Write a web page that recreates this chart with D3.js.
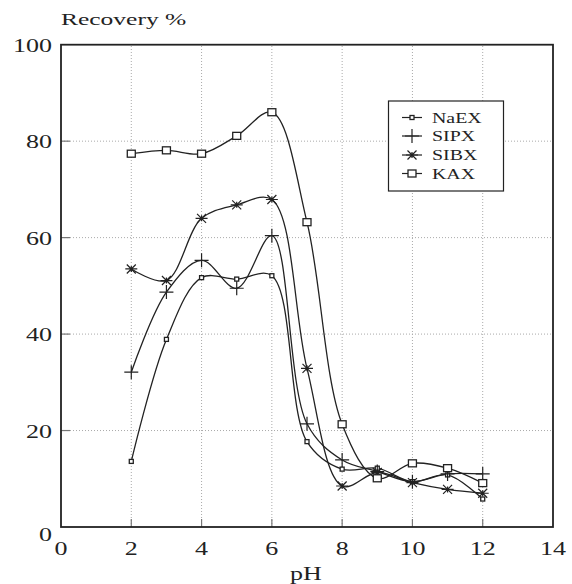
<!DOCTYPE html>
<html lang="en">
<head>
  <meta charset="UTF-8">
  <script src="https://d3js.org/d3.v7.min.js"></script>
  <title>Recovery vs pH</title>
  <style>
    body { margin: 0; background: #fff; }
    text { font-family: "Liberation Serif", "DejaVu Serif", serif; fill: #222; }
  </style>
</head>
<body>
  <svg width="572" height="584"></svg>
  <script>
    const ph = [2, 3, 4, 5, 6, 7, 8, 9, 10, 11, 12];
    const naex = [13.6, 38.9, 51.7, 51.4, 52.1, 17.7, 12.0, 12.2, 9.4, 10.8, 5.8];
    const sipx = [32.1, 48.7, 55.3, 49.5, 60.4, 21.4, 13.9, 11.5, 9.4, 11.0, 11.0];
    const sibx = [53.5, 51.1, 64.0, 66.8, 67.9, 32.9, 8.5, 11.3, 9.2, 7.8, 7.0];
    const kax = [77.4, 78.1, 77.4, 81.1, 86.0, 63.2, 21.3, 10.1, 13.2, 12.2, 9.1];
    const seriesNames = ["NaEX", "SIPX", "SIBX", "KAX"];
    const xTicks = [0, 2, 4, 6, 8, 10, 12, 14];
    const yTicks = [0, 20, 40, 60, 80, 100];

    const svg = d3.select("svg");
    const x = d3.scaleLinear().domain([0, 14]).range([61, 553]);
    const y = d3.scaleLinear().domain([0, 100]).range([527, 44.7]);
    const ink = "#222";

    // text in the picture is drawn wide
    const label = (parent, tx, ty, txt, size, anchor, stretch) =>
      parent.append("text")
        .attr("transform", `translate(${tx},${ty}) scale(${stretch || 1.37},1)`)
        .attr("text-anchor", anchor || "start")
        .attr("font-size", size)
        .text(txt);

    // dotted grid
    svg.append("g").selectAll("line.gx")
      .data(xTicks.slice(1, -1)).enter().append("line")
      .attr("x1", d => x(d)).attr("x2", d => x(d))
      .attr("y1", y(0)).attr("y2", y(100))
      .attr("stroke", "#aaa").attr("stroke-width", 1).attr("stroke-dasharray", "1,2");
    svg.append("g").selectAll("line.gy")
      .data(yTicks.slice(1, -1)).enter().append("line")
      .attr("x1", x(0)).attr("x2", x(14))
      .attr("y1", d => y(d)).attr("y2", d => y(d))
      .attr("stroke", "#aaa").attr("stroke-width", 1).attr("stroke-dasharray", "1,2");

    // inner ticks
    svg.append("g").selectAll("line")
      .data(xTicks.slice(1, -1)).enter().append("line")
      .attr("x1", d => x(d)).attr("x2", d => x(d))
      .attr("y1", y(0)).attr("y2", y(0) - 8)
      .attr("stroke", "#777").attr("stroke-width", 1.2);
    svg.append("g").selectAll("line")
      .data(yTicks.slice(1, -1)).enter().append("line")
      .attr("x1", x(0)).attr("x2", x(0) + 9)
      .attr("y1", d => y(d)).attr("y2", d => y(d))
      .attr("stroke", "#777").attr("stroke-width", 1.2);

    // frame
    svg.append("rect")
      .attr("x", x(0)).attr("y", y(100))
      .attr("width", x(14) - x(0)).attr("height", y(0) - y(100))
      .attr("fill", "none").attr("stroke", ink).attr("stroke-width", 1.8);

    // tick labels
    const xl = svg.append("g");
    xTicks.forEach(d => label(xl, x(d), 555, d, 19, "middle"));
    const yl = svg.append("g");
    yTicks.forEach(d => label(yl, 52, y(d) + (d === 0 ? 14 : 7), d, 19, "end"));

    label(svg, 61, 25, "Recovery %", 17, "start", 1.5);
    label(svg, 306, 580, "pH", 19, "middle");

    // markers
    const markers = {
      NaEX: (g) => g.append("rect").attr("x", -2).attr("y", -2).attr("width", 4).attr("height", 4)
        .attr("fill", "#fff").attr("stroke", ink).attr("stroke-width", 1.3),
      SIPX: (g) => g.append("path").attr("d", "M-7,0H7M0,-7V7")
        .attr("stroke", ink).attr("stroke-width", 1.2).attr("fill", "none"),
      SIBX: (g) => g.append("path").attr("d", "M-6,0H6M-4.5,-4.5L4.5,4.5M-4.5,4.5L4.5,-4.5M0,-3V3")
        .attr("stroke", ink).attr("stroke-width", 1.2).attr("fill", "none"),
      KAX: (g) => g.append("rect").attr("x", -4).attr("y", -3.5).attr("width", 8).attr("height", 7)
        .attr("fill", "#fff").attr("stroke", ink).attr("stroke-width", 1.3)
    };

    const allSeries = [naex, sipx, sibx, kax];
    const line = d3.line().x(d => x(d[0])).y(d => y(d[1])).curve(d3.curveCatmullRom.alpha(0.5));

    allSeries.forEach((vals) => {
      const pts = ph.map((p, j) => [p, vals[j]]);
      svg.append("path")
        .attr("d", line(pts))
        .attr("fill", "none").attr("stroke", ink).attr("stroke-width", 1.3);
    });
    allSeries.forEach((vals, i) => {
      const name = seriesNames[i];
      ph.forEach((p, j) => {
        const g = svg.append("g").attr("transform", `translate(${x(p)},${y(vals[j])})`);
        markers[name](g);
      });
    });

    // legend
    const lg = svg.append("g");
    lg.append("rect").attr("x", 388.5).attr("y", 101).attr("width", 115).attr("height", 90)
      .attr("fill", "#fff").attr("stroke", ink).attr("stroke-width", 1.2);
    const legY = [117.5, 136, 155, 173.5];
    seriesNames.forEach((name, i) => {
      lg.append("line").attr("x1", 402).attr("x2", 422).attr("y1", legY[i]).attr("y2", legY[i])
        .attr("stroke", ink).attr("stroke-width", 1.2);
      const g = lg.append("g").attr("transform", `translate(412,${legY[i]})`);
      markers[name](g);
      label(lg, 432, legY[i] + 5, name, 14.5);
    });
  </script>
</body>
</html>
